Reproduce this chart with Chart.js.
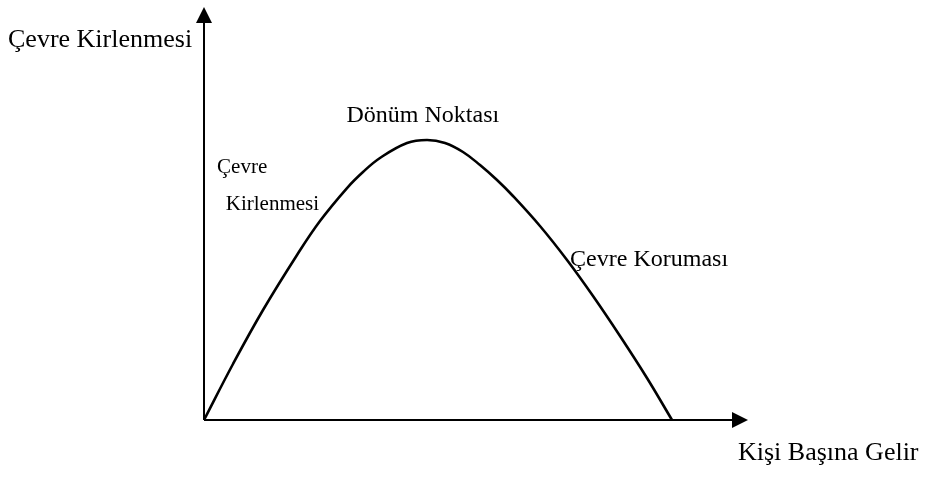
<!DOCTYPE html>
<html>
<head>
<meta charset="utf-8">
<script src="https://cdn.jsdelivr.net/npm/chart.js@4/dist/chart.umd.min.js"></script>
<style>
  html, body { margin: 0; padding: 0; background: #ffffff; }
  #wrap { width: 925px; height: 483px; }
</style>
</head>
<body>
<div id="wrap"><canvas id="myChart" width="925" height="483"></canvas></div>
<script>
// Kişi başına gelir (x) ve çevre kirlenmesi (y), resimden okunan noktalar
const gelir = [0, 5.33, 10.85, 17.10, 21.32, 26.29, 29.23, 32.35, 37.32, 41.00,
               44.30, 47.61, 50.74, 53.86, 56.80, 61.76, 66.73, 71.51, 76.47, 81.43, 86.03];
const kirlilik = [0, 13.56, 26.63, 39.95, 48.18, 56.17, 60.05, 63.44, 67.07, 67.80,
                  67.07, 64.89, 61.74, 58.11, 54.24, 46.97, 38.74, 30.02, 20.34, 10.17, 0];

const eksenBasliklari = ['Çevre Kirlenmesi', 'Kişi Başına Gelir'];
// etiket metni ve konumu (veri birimiyle)
const etiketler = ['Dönüm Noktası', 'Çevre', 'Kirlenmesi', 'Çevre Koruması'];
const etiketX = [26.2, 2.4, 4.0, 67.3];
const etiketY = [72.2, 59.8, 50.8, 37.3];

const serif = '"Liberation Serif", "DejaVu Serif", serif';

const eksenPlugin = {
    id: 'eksenler',
    afterDatasetsDraw(chart) {
        const ctx = chart.ctx;
        const a = chart.chartArea;
        ctx.save();
        ctx.strokeStyle = '#000000';
        ctx.fillStyle = '#000000';
        ctx.lineWidth = 2;

        // y ekseni
        ctx.beginPath();
        ctx.moveTo(a.left, a.bottom);
        ctx.lineTo(a.left, a.top + 14);
        ctx.stroke();
        ctx.beginPath();
        ctx.moveTo(a.left, a.top);
        ctx.lineTo(a.left - 8, a.top + 16);
        ctx.lineTo(a.left + 8, a.top + 16);
        ctx.closePath();
        ctx.fill();

        // x ekseni
        ctx.beginPath();
        ctx.moveTo(a.left, a.bottom);
        ctx.lineTo(a.right - 14, a.bottom);
        ctx.stroke();
        ctx.beginPath();
        ctx.moveTo(a.right, a.bottom);
        ctx.lineTo(a.right - 16, a.bottom - 8);
        ctx.lineTo(a.right - 16, a.bottom + 8);
        ctx.closePath();
        ctx.fill();

        // eksen başlıkları
        ctx.textBaseline = 'alphabetic';
        ctx.textAlign = 'left';
        ctx.font = '26px ' + serif;
        ctx.fillText(eksenBasliklari[0], 8, 47);
        ctx.fillText(eksenBasliklari[1], 738, 460);

        // eğri üzerindeki etiketler
        const xs = chart.scales.x;
        const ys = chart.scales.y;
        const boyut = [24, 21, 21, 24];
        etiketler.forEach((t, i) => {
            ctx.font = boyut[i] + 'px ' + serif;
            ctx.fillText(t, xs.getPixelForValue(etiketX[i]), ys.getPixelForValue(etiketY[i]));
        });
        ctx.restore();
    }
};

const ctx = document.getElementById('myChart').getContext('2d');
const myChart = new Chart(ctx, {
    type: 'scatter',
    data: {
        datasets: [{
            label: 'Çevre Kirlenmesi',
            data: gelir.map((g, i) => ({ x: g, y: kirlilik[i] })),
            showLine: true,
            borderColor: '#000000',
            borderWidth: 2.6,
            pointRadius: 0,
            tension: 0.4,
            fill: false
        }]
    },
    options: {
        responsive: false,
        animation: false,
        layout: {
            padding: { left: 204, right: 177, top: 7, bottom: 63 }
        },
        plugins: {
            legend: { display: false },
            tooltip: { enabled: false }
        },
        scales: {
            x: { type: 'linear', min: 0, max: 100, display: false },
            y: { type: 'linear', min: 0, max: 100, display: false }
        }
    },
    plugins: [eksenPlugin]
});
</script>
</body>
</html>
